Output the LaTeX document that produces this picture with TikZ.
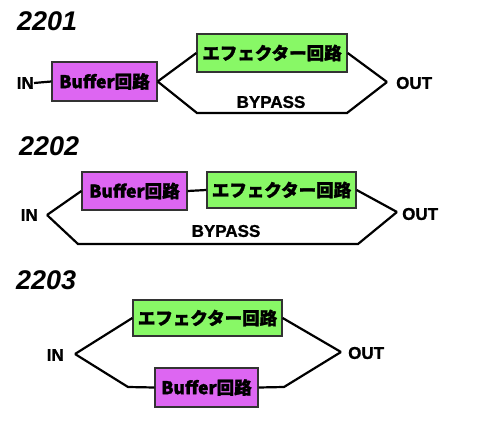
\documentclass[tikz,border=0pt]{standalone}
\usepackage{fontspec}
\setmainfont{Liberation Sans}[BoldFeatures={FakeBold=1.2}]
\newfontfamily\jpfont{Noto Sans CJK JP}[BoldFeatures={FakeBold=1.6}]
\definecolor{bufcol}{HTML}{DD66F2}
\definecolor{effcol}{HTML}{88F866}
\definecolor{edgecol}{HTML}{333333}
\tikzset{
  x=1pt, y=-1pt,
  wire/.style={line width=2.2pt, line join=miter},
  box/.style={draw=edgecol, line width=1.3pt, inner sep=0pt, font=\jpfont\bfseries\fontsize{17.5}{17.5}\selectfont},
  bufbox/.style={box, fill=bufcol},
  effbox/.style={box, fill=effcol},
  lbl/.style={inner sep=0pt, font=\bfseries\fontsize{17}{17}\selectfont},
  ttl/.style={inner sep=0pt, anchor=west, font=\bfseries\itshape\fontsize{27}{27}\selectfont},
}
\begin{document}
\begin{tikzpicture}
\useasboundingbox (0,0) rectangle (500,422);
% ---------- 2201 ----------
\node[ttl] (t1) at (17,21) {2201};
\node[lbl, anchor=east] (in1) at (34,83) {IN};
\node[bufbox, minimum width=105pt, minimum height=39pt] (buf1) at (104.5,81.5) {Buffer回路};
\node[effbox, minimum width=150pt, minimum height=38pt] (eff1) at (272,53) {エフェクター回路};
\coordinate (b1l) at (197,113);
\coordinate (b1r) at (347,113);
\coordinate (j1) at (387,82);
\node[lbl, anchor=west] (out1) at (396,83) {OUT};
\node[lbl] (bp1) at (271,102) {BYPASS};
\draw[wire] (in1.east) -- (buf1.west);
\draw[wire] (buf1.east) -- (eff1.west);
\draw[wire] (buf1.east) -- (b1l) -- (b1r) -- (j1);
\draw[wire] (eff1.east) -- (j1);
% ---------- 2202 ----------
\node[ttl] (t2) at (19,146) {2202};
\node[lbl, anchor=east] (in2) at (38,215) {IN};
\coordinate (j2in) at (47,215);
\node[bufbox, minimum width=105pt, minimum height=38pt] (buf2) at (134.5,191) {Buffer回路};
\node[effbox, minimum width=149pt, minimum height=36pt] (eff2) at (281.5,190) {エフェクター回路};
\coordinate (b2l) at (78,244);
\coordinate (b2r) at (358,244);
\coordinate (j2) at (397,212);
\node[lbl, anchor=west] (out2) at (402,214) {OUT};
\node[lbl] (bp2) at (226,231) {BYPASS};
\draw[wire] (j2in) -- (buf2.west);
\draw[wire] (j2in) -- (b2l) -- (b2r) -- (j2);
\draw[wire] (buf2.east) -- (eff2.west);
\draw[wire] (eff2.east) -- (j2);
% ---------- 2203 ----------
\node[ttl] (t3) at (16,280) {2203};
\node[lbl, anchor=east] (in3) at (64,355) {IN};
\coordinate (j3in) at (75,354);
\node[effbox, minimum width=149pt, minimum height=36pt] (eff3) at (207.5,318) {エフェクター回路};
\node[bufbox, minimum width=103pt, minimum height=39pt] (buf3) at (206.5,387.5) {Buffer回路};
\coordinate (b3l) at (128,387);
\coordinate (b3r) at (284,387);
\coordinate (j3) at (341,352);
\node[lbl, anchor=west] (out3) at (348,353) {OUT};
\draw[wire] (j3in) -- (eff3.west);
\draw[wire] (j3in) -- (b3l) -- (buf3.west);
\draw[wire] (eff3.east) -- (j3);
\draw[wire] (buf3.east) -- (b3r) -- (j3);
\end{tikzpicture}
\end{document}
